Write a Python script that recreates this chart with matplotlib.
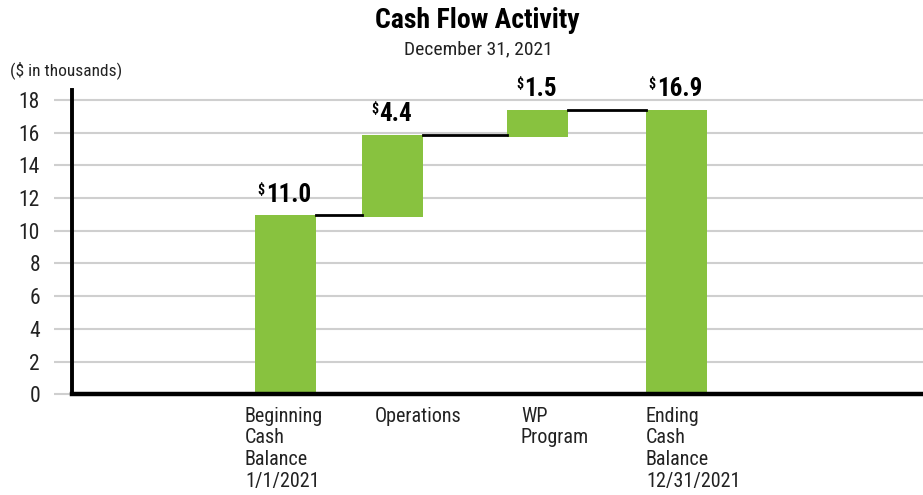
import matplotlib
matplotlib.use("Agg")
import matplotlib.pyplot as plt
from matplotlib import font_manager

# data (bars as drawn, labels as printed)
categories = ["Beginning\nCash\nBalance\n1/1/2021", "Operations", "WP\nProgram",
              "Ending\nCash\nBalance\n12/31/2021"]
bar_bottoms = [0, 10.85, 15.75, 0]
bar_tops = [10.95, 15.87, 17.4, 17.4]
value_labels = ["11.0", "4.4", "1.5", "16.9"]
yticks = [0, 2, 4, 6, 8, 10, 12, 14, 16, 18]

# horizontal slots (uneven spacing like the original)
positions = [2.135, 3.21, 4.655, 6.045]
label_shift = [-0.10, 0.12, 0.14, 0.0]

# pick a condensed face, the original uses a narrow gothic
names = {f.name for f in font_manager.fontManager.ttflist}
narrow = "DejaVu Sans"
for cand in ["Roboto Condensed", "Archivo Narrow", "PT Sans Narrow", "IBM Plex Sans Condensed"]:
    if cand in names:
        narrow = cand
        break
plt.rcParams["font.family"] = [narrow, "DejaVu Sans"]

green = "#88C23F"
fig = plt.figure(figsize=(9.23, 4.95), dpi=100)
ax = fig.add_axes([0.078, 0.2032, 0.922, 0.615])

width = 0.61
heights = [t - b for t, b in zip(bar_tops, bar_bottoms)]
ax.bar(positions, heights, bottom=bar_bottoms, width=width, color=green, zorder=3)

# connectors between bars
for i in range(len(positions) - 1):
    ax.plot([positions[i] + width / 2, positions[i + 1] - width / 2],
            [bar_tops[i], bar_tops[i]], color="black", lw=2, zorder=3)

# value labels with small superscript dollar sign
for x, top, lab in zip(positions, bar_tops, value_labels):
    t = ax.annotate(lab, (x, top), xytext=(2, 6), textcoords="offset points",
                    ha="center", va="bottom", fontsize=18, fontweight="bold", zorder=4)
    ax.annotate("$", xy=(-0.02, 1.0), xycoords=t, ha="right", va="top",
                fontsize=10, fontweight="bold")

# category labels, left aligned under the bars
for x, s, cat in zip(positions, label_shift, categories):
    ax.text(x - width / 2 + s, -0.75, cat, ha="left", va="top", fontsize=14.5,
            linespacing=1.18, color="#222222")

ax.set_xlim(0, 8.51)
ax.set_ylim(0, 18.6)
ax.set_yticks(yticks)
ax.set_yticklabels([str(v) for v in yticks], fontsize=15.5, color="#222222")
ax.set_xticks([])
ax.yaxis.grid(True, color="#cfcfcf", lw=1.5, zorder=0)
ax.tick_params(axis="y", length=13, width=1.5, color="#cfcfcf", pad=10)

for side in ["top", "right"]:
    ax.spines[side].set_visible(False)
ax.spines["left"].set_linewidth(2.8)
ax.spines["bottom"].set_linewidth(3.2)
ax.spines["left"].set_zorder(5)
ax.spines["bottom"].set_zorder(5)

fig.text(0.517, 0.958, "Cash Flow Activity", ha="center", va="center",
         fontsize=20, fontweight="bold")
fig.text(0.518, 0.9, "December 31, 2021", ha="center", va="center", fontsize=14,
         color="#222222")
fig.text(0.011, 0.858, "($ in thousands)", ha="left", va="center", fontsize=12.5,
         color="#222222")

fig.savefig("out.png", dpi=100)
